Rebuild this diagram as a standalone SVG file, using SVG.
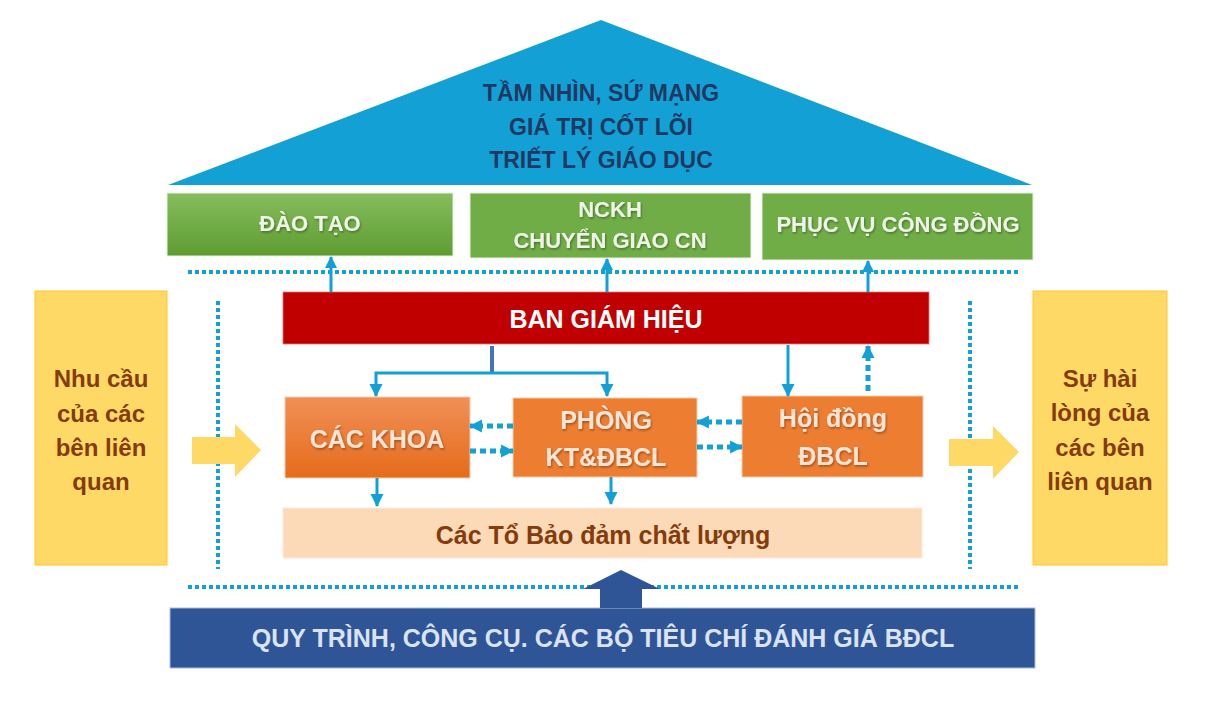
<svg xmlns="http://www.w3.org/2000/svg" width="1207" height="709" viewBox="0 0 1207 709">
  <defs>
    <linearGradient id="gGreen" x1="0" y1="0" x2="0" y2="1">
      <stop offset="0" stop-color="#86BD5E"/>
      <stop offset="1" stop-color="#5E9C31"/>
    </linearGradient>
    <linearGradient id="gOrange" x1="0" y1="0" x2="0" y2="1">
      <stop offset="0" stop-color="#F18F57"/>
      <stop offset="1" stop-color="#E56C1A"/>
    </linearGradient>
    <filter id="sh" x="-10%" y="-30%" width="120%" height="160%">
      <feDropShadow dx="1" dy="1.5" stdDeviation="1" flood-color="#000" flood-opacity="0.35"/>
    </filter>
    <marker id="ah" viewBox="0 0 12 12" refX="11" refY="6" markerWidth="12" markerHeight="12" markerUnits="userSpaceOnUse" orient="auto">
      <path d="M0,0 L12,6 L0,12 z" fill="#13A0D6"/>
    </marker>
    <marker id="ahd" viewBox="0 0 12 12" refX="11" refY="6" markerWidth="13" markerHeight="14" markerUnits="userSpaceOnUse" orient="auto">
      <path d="M0,0 L12,6 L0,12 z" fill="#13A0D6"/>
    </marker>
  </defs>
  <style>
    text { font-family: "Liberation Sans", Arial, sans-serif; font-weight: bold; text-anchor: middle; dominant-baseline: central; }
    .tri { fill: #1F3864; font-size: 23px; }
    .grn { fill: #EEF5E7; font-size: 22px; }
    .org { fill: #FBE5D6; font-size: 25px; }
    .ylw { fill: #843C0C; font-size: 24px; }
    .dot { fill: none; stroke: #13A0D6; stroke-width: 4; stroke-dasharray: 4 3; }
    .con { fill: none; stroke: #13A0D6; stroke-width: 3; }
    .dcon { fill: none; stroke: #13A0D6; stroke-width: 5; stroke-dasharray: 6 4; }
  </style>

  <rect width="1207" height="709" fill="#FFFFFF"/>

  <g id="roof">
    <polygon points="601,20 1032,185 168,185" fill="#13A1D5"/>
    <text class="tri" x="601" y="93">TẦM NHÌN, SỨ MẠNG</text>
    <text class="tri" x="601" y="127">GIÁ TRỊ CỐT LÕI</text>
    <text class="tri" x="601" y="160">TRIẾT LÝ GIÁO DỤC</text>
  </g>

  <g id="dao-tao">
    <rect x="167" y="193" width="286" height="63" fill="url(#gGreen)" stroke="#E8F0E0" stroke-width="1"/>
    <text class="grn" x="310" y="223" filter="url(#sh)">ĐÀO TẠO</text>
  </g>
  <g id="nckh">
    <rect x="470" y="193" width="281" height="65" fill="#70AD47" stroke="#E8F0E0" stroke-width="1"/>
    <text class="grn" x="610" y="209" filter="url(#sh)">NCKH</text>
    <text class="grn" x="610" y="240" filter="url(#sh)">CHUYỂN GIAO CN</text>
  </g>
  <g id="phuc-vu">
    <rect x="762" y="193" width="271" height="67" fill="#70AD47" stroke="#E8F0E0" stroke-width="1"/>
    <text class="grn" x="898" y="224" filter="url(#sh)">PHỤC VỤ CỘNG ĐỒNG</text>
  </g>

  <g id="frame">
    <line class="dot" x1="188" y1="272" x2="1020" y2="272"/>
    <line class="dot" x1="188" y1="587" x2="1020" y2="587"/>
    <line class="dot" x1="218" y1="301" x2="218" y2="569"/>
    <line class="dot" x1="970" y1="301" x2="970" y2="569"/>
  </g>

  <g id="nhu-cau">
    <rect x="35" y="291" width="132" height="274" fill="#FFD966" stroke="#FFC629" stroke-width="1"/>
    <text class="ylw" x="101" y="378">Nhu cầu</text>
    <text class="ylw" x="101" y="413">của các</text>
    <text class="ylw" x="101" y="447">bên liên</text>
    <text class="ylw" x="101" y="481">quan</text>
  </g>
  <g id="su-hai-long">
    <rect x="1033" y="291" width="134" height="274" fill="#FFD966" stroke="#FFC629" stroke-width="1"/>
    <text class="ylw" x="1100" y="378">Sự hài</text>
    <text class="ylw" x="1100" y="412">lòng của</text>
    <text class="ylw" x="1100" y="447">các bên</text>
    <text class="ylw" x="1100" y="481">liên quan</text>
  </g>

  <g id="ban-giam-hieu">
    <rect x="283" y="292" width="646" height="52" fill="#C00000" stroke="#E57373" stroke-width="0.8"/>
    <text x="606" y="319" fill="#FFFFFF" font-size="25">BAN GIÁM HIỆU</text>
  </g>

  <g id="cac-khoa">
    <rect x="285" y="397" width="185" height="81" fill="url(#gOrange)" stroke="#F8CBAD" stroke-width="1"/>
    <text class="org" x="377" y="439" filter="url(#sh)">CÁC KHOA</text>
  </g>
  <g id="phong">
    <rect x="513" y="398" width="184" height="79" fill="#ED7D31" stroke="#F8CBAD" stroke-width="1"/>
    <text class="org" x="606" y="420" filter="url(#sh)">PHÒNG</text>
    <text class="org" x="606" y="457" filter="url(#sh)">KT&amp;ĐBCL</text>
  </g>
  <g id="hoi-dong">
    <rect x="742" y="396" width="181" height="81" fill="#ED7D31" stroke="#F8CBAD" stroke-width="1"/>
    <text class="org" x="833" y="418" filter="url(#sh)">Hội đồng</text>
    <text class="org" x="833" y="456" filter="url(#sh)">ĐBCL</text>
  </g>

  <g id="cac-to">
    <rect x="283" y="508" width="639" height="50" fill="#FCDAB8" stroke="#FDE9D9" stroke-width="1"/>
    <text x="603" y="535" fill="#843C0C" font-size="25">Các Tổ Bảo đảm chất lượng</text>
  </g>

  <g id="quy-trinh">
    <rect x="170" y="608" width="865" height="60" fill="#2F5597" stroke="#A9BCE0" stroke-width="1"/>
    <text x="603" y="638" fill="#DAE3F3" font-size="25">QUY TRÌNH, CÔNG CỤ. CÁC BỘ TIÊU CHÍ ĐÁNH GIÁ BĐCL</text>
  </g>

  <g id="connectors">
    <polygon points="192,437 235,437 235,424 261,450 235,477 235,464 192,464" fill="#FFD966"/>
    <polygon points="949,439 993,439 993,426 1019,452 993,479 993,466 949,466" fill="#FFD966"/>
    <polygon points="621,570 660,589 642,589 642,608 600,608 600,589 583,589" fill="#2F5597"/>

    <line class="con" x1="331" y1="292" x2="331" y2="257" marker-end="url(#ah)"/>
    <line class="con" x1="607" y1="292" x2="607" y2="259" marker-end="url(#ah)"/>
    <line class="con" x1="868" y1="292" x2="868" y2="261" marker-end="url(#ah)"/>

    <line x1="492" y1="346" x2="492" y2="373" stroke="#4472C4" stroke-width="4"/>
    <polyline class="con" points="492,373 376,373 376,396" marker-end="url(#ahd)"/>
    <polyline class="con" points="492,373 607,373 607,396" marker-end="url(#ahd)"/>
    <line class="con" x1="788" y1="345" x2="788" y2="396" marker-end="url(#ahd)"/>
    <line class="dcon" x1="868" y1="391" x2="868" y2="346" marker-end="url(#ahd)"/>

    <line class="dcon" x1="513" y1="426" x2="470" y2="426" marker-end="url(#ahd)"/>
    <line class="dcon" x1="470" y1="451" x2="513" y2="451" marker-end="url(#ahd)"/>
    <line class="dcon" x1="742" y1="422" x2="697" y2="422" marker-end="url(#ahd)"/>
    <line class="dcon" x1="697" y1="447" x2="742" y2="447" marker-end="url(#ahd)"/>

    <line class="con" x1="377" y1="478" x2="377" y2="506" marker-end="url(#ahd)"/>
    <line class="con" x1="611" y1="477" x2="611" y2="504" marker-end="url(#ahd)"/>
  </g>
</svg>
